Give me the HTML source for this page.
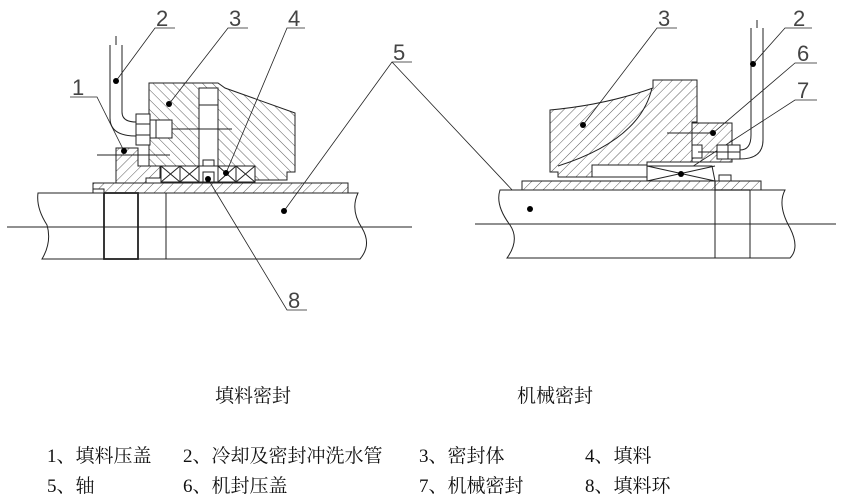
<!DOCTYPE html>
<html><head><meta charset="utf-8"><style>
html,body{margin:0;padding:0;background:#fff;}
svg{display:block;}
.t{font-family:"Liberation Serif","Noto Serif CJK SC",serif;font-size:19px;fill:#111;}
.n{font-family:"Liberation Sans",sans-serif;font-size:22px;fill:#444;}
</style></head><body>
<svg width="842" height="500" viewBox="0 0 842 500" xmlns="http://www.w3.org/2000/svg">
<defs>
<pattern id="h" width="7" height="7" patternUnits="userSpaceOnUse" patternTransform="rotate(45)">
<line x1="0" y1="0" x2="0" y2="7" stroke="#333" stroke-width="0.8"/></pattern>
<pattern id="h2" width="7" height="7" patternUnits="userSpaceOnUse" patternTransform="rotate(-45)">
<line x1="0" y1="0" x2="0" y2="7" stroke="#333" stroke-width="0.8"/></pattern>
</defs>
<g fill="none" stroke="#222" stroke-width="1">
<!-- LEFT -->
<path d="M38,193 H358 Q350,210 362,228 Q372,245 360,259 H42 Q52,242 47,225 Q36,208 38,193 Z" fill="#fff"/>
<line x1="7" y1="227" x2="412" y2="227"/>
<rect x="104" y="193" width="34" height="66" stroke-width="1.8"/>
<line x1="166" y1="193" x2="166" y2="259"/>
<rect x="93" y="183" width="255" height="10" fill="url(#h)"/>
<rect x="93" y="189" width="11" height="4" fill="#fff"/>
<path d="M116,148 H138 V166 H160 V178 H146 V183 H116 Z" fill="url(#h)"/>
<path d="M149,83 H218 L225,88 L295,113 V172 H287 V180 H255 V166 H149 Z" fill="url(#h2)"/>
<rect x="199" y="88" width="19" height="78" fill="#fff"/>
<line x1="199" y1="105" x2="218" y2="105"/>
<path d="M203,166 V160 H214 V166"/>
<rect x="161" y="166" width="94" height="16" fill="#fff"/>
<path d="M161,166 L180,182 M180,166 L161,182 M180,166 V182 M199,166 V182 M199,166 L180,182 M180,166 L199,182 M218,166 V182 M218,166 L236,182 M236,166 L218,182 M236,166 V182 M236,166 L255,182 M255,166 L236,182"/>
<path d="M203,182 V172 H214 V182"/>
<rect x="136" y="114" width="14" height="31" fill="#fff"/>
<line x1="136" y1="124" x2="150" y2="124"/><line x1="136" y1="135" x2="150" y2="135"/>
<rect x="150" y="120" width="22" height="18" fill="#fff"/>
<line x1="156" y1="120" x2="156" y2="138"/>
<line x1="172" y1="129" x2="232" y2="129"/>
<path d="M110,45 V118 Q110,136 136,136"/>
<path d="M122,45 V112 Q122,122 136,122"/>
<line x1="116" y1="36" x2="116" y2="45"/>
<line x1="97" y1="155" x2="170" y2="155"/>
<g stroke-width="0.8">
<path d="M70,97 H97 L124,151"/>
<path d="M175,28 H155 L116,81"/>
<path d="M248,28 H228 L169,104"/>
<path d="M305,28 H287 L226,173"/>
<path d="M412,62 H392 L284,211 M392,62 L530,209"/>
<path d="M307,310 H287 L208,179"/>
<path d="M677,28 H657 L583,125"/>
<path d="M812,28 H785 L753,64"/>
<path d="M817,63 H795 L713,133"/>
<path d="M817,100 H795 L681,174"/>
</g>
<!-- RIGHT -->
<path d="M500,190 H785 Q777,205 790,228 Q800,248 790,258 H507 Q520,240 510,225 Q495,205 500,190 Z" fill="#fff"/>
<line x1="475" y1="224" x2="836" y2="224"/>
<line x1="715" y1="190" x2="715" y2="258"/>
<line x1="750" y1="190" x2="750" y2="258"/>
<rect x="522" y="181" width="239" height="9" fill="url(#h)"/>
<path d="M715,181 V190 H750" stroke-width="1.2"/>
<path d="M550,110 Q605,105 653,88 V80 H697 V122 H692 V162 H647 V165 H592 V177 H558 V172 H550 Z" fill="url(#h)"/>
<path d="M558,166 Q640,140 652,88"/>
<rect x="592" y="165" width="55" height="12" fill="#fff"/>
<rect x="692" y="123" width="40" height="39" fill="url(#h)"/>
<rect x="692" y="145" width="10" height="13" fill="#fff"/>
<path d="M647,166 H712 L715,181 H647 Z" fill="#fff"/>
<path d="M647,166 L715,181 M647,181 L715,166"/>
<rect x="719" y="175" width="12" height="6" fill="#fff"/>
<rect x="717" y="145" width="23" height="14" fill="#fff"/>
<line x1="728" y1="145" x2="728" y2="159"/>
<line x1="698" y1="152" x2="740" y2="152"/>
<line x1="667" y1="133" x2="715" y2="133"/>
<path d="M751,28 V135 Q751,150 740,150"/>
<path d="M763,28 V140 Q763,159 740,159"/>
<line x1="757" y1="20" x2="757" y2="28"/>
</g>
<g fill="#000">
<circle cx="124" cy="151" r="3"/><circle cx="116" cy="81" r="3"/><circle cx="169" cy="104" r="3"/>
<circle cx="226" cy="173" r="3"/><circle cx="284" cy="211" r="3"/><circle cx="208" cy="179" r="3"/>
<circle cx="530" cy="209" r="3"/><circle cx="583" cy="125" r="3"/><circle cx="753" cy="64" r="3"/>
<circle cx="713" cy="133" r="3"/><circle cx="681" cy="174" r="3"/>
</g>
<g class="n">
<text x="72" y="95">1</text><text x="156" y="26">2</text><text x="229" y="26">3</text>
<text x="288" y="26">4</text><text x="393" y="60">5</text><text x="288" y="308">8</text>
<text x="658" y="26">3</text><text x="793" y="26">2</text><text x="797" y="61">6</text><text x="797" y="98">7</text>
</g>
<g class="t">
<text x="215" y="402">填料密封</text>
<text x="517" y="402">机械密封</text>
<text x="47" y="462">1、填料压盖</text>
<text x="183" y="462">2、冷却及密封冲洗水管</text>
<text x="419" y="462">3、密封体</text>
<text x="585" y="462">4、填料</text>
<text x="47" y="492">5、轴</text>
<text x="183" y="492">6、机封压盖</text>
<text x="419" y="492">7、机械密封</text>
<text x="585" y="492">8、填料环</text>
</g>
</svg>
</body></html>
